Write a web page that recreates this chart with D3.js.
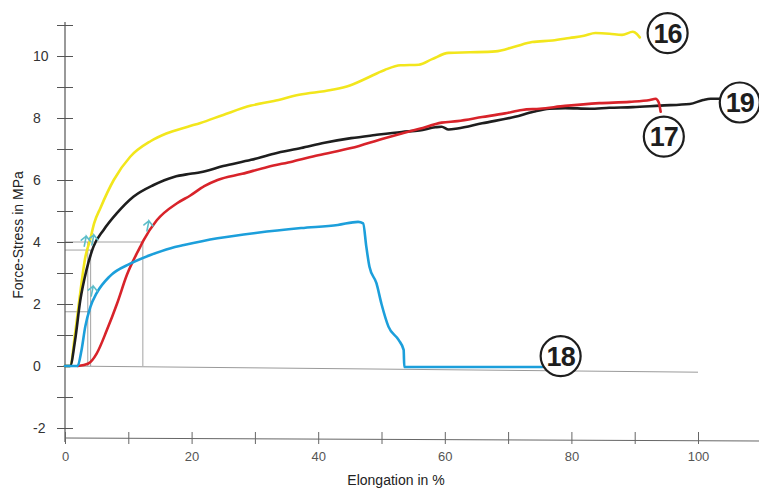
<!DOCTYPE html>
<html>
<head>
<meta charset="utf-8">
<script src="https://cdn.jsdelivr.net/npm/d3@7"></script>
<style>
  body { margin: 0; background: #fff; }
  svg { display: block; font-family: "Liberation Sans", Arial, sans-serif; }
</style>
</head>
<body>
<div id="chart"></div>
<script>
// curves: [elongation %, stress MPa]
const curve16 = [[0,0],[0.8,0],[1.6,1.06],[2.4,2.35],[3.2,3.5],[4,4.1],[4.6,4.6],[5.6,5.1],[7.7,6.0],[10.3,6.75],[13.5,7.25],[16,7.5],[19.4,7.72],[21.4,7.84],[25,8.1],[29.4,8.4],[33,8.55],[37,8.75],[42,8.9],[45,9.05],[47.3,9.25],[50.5,9.55],[53,9.7],[55.9,9.72],[58,9.9],[60.6,10.1],[64,10.12],[68,10.15],[71,10.3],[73.8,10.45],[77,10.5],[79.7,10.58],[82,10.65],[83.8,10.74],[86,10.72],[88,10.68],[89.7,10.78],[90.3,10.72],[90.8,10.6]];
const curve19 = [[0,0],[0.8,0],[1.6,0.84],[2.4,2.1],[3.4,3.1],[4.5,3.85],[6.1,4.39],[8.2,4.93],[10.8,5.46],[14,5.84],[17.2,6.1],[19.8,6.2],[21.4,6.25],[25,6.45],[29.4,6.65],[33,6.85],[37.3,7.03],[41,7.2],[45.2,7.35],[49,7.45],[53.2,7.55],[56,7.6],[58.5,7.7],[59.5,7.72],[60.6,7.63],[62,7.66],[65.9,7.83],[71.1,8.04],[74,8.2],[76.5,8.3],[79,8.32],[82.9,8.3],[86,8.33],[89.7,8.35],[94,8.4],[98.7,8.45],[100.8,8.58],[102,8.62],[103.5,8.62]];
const curve17 = [[2.0,0],[3.7,0.08],[5,0.4],[6.6,1.15],[8.2,2.0],[9.8,2.95],[11.9,3.85],[12.4,4.05],[14.5,4.7],[17.7,5.25],[19.8,5.5],[22,5.8],[24.1,6.0],[28,6.2],[32,6.42],[36,6.6],[40,6.8],[45.2,7.03],[50.5,7.35],[53.2,7.5],[56,7.65],[59.5,7.85],[62,7.9],[65.9,8.03],[69.5,8.15],[72.2,8.26],[75,8.3],[79,8.39],[84.4,8.48],[89.2,8.52],[92.4,8.58],[93.3,8.62],[93.8,8.5],[94.1,8.2]];
const curve18 = [[0,0],[2.0,0],[2.6,0.5],[3.2,1.27],[4,1.9],[5,2.35],[7.1,2.9],[10.3,3.3],[13.5,3.58],[16.7,3.8],[18.8,3.9],[24.1,4.12],[30.4,4.3],[37.3,4.45],[43.1,4.55],[46.3,4.65],[47.1,4.6],[47.6,3.85],[48.1,3.2],[49.2,2.67],[50,2.0],[51.1,1.27],[52.7,0.84],[53.5,0.52],[53.6,-0.03],[60,-0.03],[75.4,-0.03]];

const seriesNames = ['16', '19', '17', '18'];
const seriesColors = ['#f2e61c', '#1e1e1e', '#d8232a', '#1c9fdb'];
// circled label positions [x, y] in data units
const labelPos = [[95.2,10.74],[106.6,8.5],[94.6,7.4],[78.3,0.32]];

// hand-drawn guide lines: horizontal [y, xEnd], vertical [x, yEnd]
const guideH = [[4,12.3],[3.74,4.1],[1.75,4.0]];
const guideV = [[12.3,4],[3.6,4],[4.05,3.74]];
// small cyan check marks
const marks = [[3.2,4.06],[4.4,4.1],[4.3,2.45],[13.1,4.55]];

const xTicks = d3.range(0, 110, 10);
const yTicks = d3.range(-2, 12, 1);

const width = 759, height = 490;
const x = d3.scaleLinear().domain([0, 100]).range([65, 698]);
const y = d3.scaleLinear().domain([0, 10]).range([366, 56]);

const svg = d3.select('#chart').append('svg')
    .attr('width', width)
    .attr('height', height);

// zero reference line (slightly tilted like the scan)
svg.append('line')
    .attr('x1', x(0)).attr('y1', y(0))
    .attr('x2', x(100)).attr('y2', y(-0.2))
    .attr('stroke', '#9a9a9a').attr('stroke-width', 1);

// guides
svg.selectAll('.gh').data(guideH).enter().append('line')
    .attr('x1', x(0)).attr('x2', d => x(d[1]))
    .attr('y1', d => y(d[0])).attr('y2', d => y(d[0]))
    .attr('stroke', '#8a8a8a').attr('stroke-width', 0.8);
svg.selectAll('.gv').data(guideV).enter().append('line')
    .attr('x1', d => x(d[0])).attr('x2', d => x(d[0]))
    .attr('y1', y(0)).attr('y2', d => y(d[1]))
    .attr('stroke', '#8a8a8a').attr('stroke-width', 0.8);

// y axis
const yAxis = svg.append('g')
    .attr('transform', `translate(${x(0)},0)`)
    .call(d3.axisLeft(y).tickValues(yTicks).tickSize(8)
        .tickFormat(d => (d % 2 === 0 && d <= 10) ? d : ''));
yAxis.select('.domain').remove();
yAxis.selectAll('.tick line').attr('x1', 8).attr('x2', -8).attr('stroke', '#555');
yAxis.selectAll('.tick text')
    .attr('x', -32).attr('text-anchor', 'start')
    .attr('font-size', 14).attr('fill', '#333')
    .attr('font-family', '"Liberation Sans", Arial, sans-serif');
yAxis.append('line')
    .attr('x1', 0).attr('x2', 0)
    .attr('y1', y(11.1)).attr('y2', y(-2.45))
    .attr('stroke', '#555').attr('stroke-width', 1.2);

// x axis
const xAxis = svg.append('g')
    .attr('transform', `translate(0,438)`)
    .call(d3.axisBottom(x).tickValues(xTicks).tickSize(6).tickPadding(8)
        .tickFormat(d => d % 20 === 0 ? d : ''));
xAxis.select('.domain').remove();
xAxis.selectAll('.tick line').attr('y1', -6).attr('y2', 6).attr('stroke', '#666');
xAxis.selectAll('.tick text')
    .attr('font-size', 13).attr('fill', '#555')
    .attr('font-family', '"Liberation Sans", Arial, sans-serif');
xAxis.append('line')
    .attr('x1', x(0)).attr('x2', width)
    .attr('y1', 0).attr('y2', 3)
    .attr('stroke', '#666').attr('stroke-width', 1);

// axis titles
svg.append('text')
    .attr('x', 396).attr('y', 485)
    .attr('text-anchor', 'middle')
    .attr('font-size', 14).attr('fill', '#222')
    .text('Elongation in %');
svg.append('text')
    .attr('transform', 'translate(23,235) rotate(-90)')
    .attr('text-anchor', 'middle')
    .attr('font-size', 14).attr('fill', '#222')
    .text('Force-Stress in MPa');

// curves
const line = d3.line()
    .x(d => x(d[0]))
    .y(d => y(d[1]))
    .curve(d3.curveMonotoneX);

const curves = [curve16, curve19, curve17, curve18];
svg.selectAll('.curve').data(curves).enter().append('path')
    .attr('class', 'curve')
    .attr('fill', 'none')
    .attr('stroke', (d, i) => seriesColors[i])
    .attr('stroke-width', 2.6)
    .attr('stroke-linejoin', 'round')
    .attr('stroke-linecap', 'round')
    .attr('d', line);

// cyan check marks
svg.selectAll('.mark').data(marks).enter().append('path')
    .attr('transform', d => `translate(${x(d[0])},${y(d[1])})`)
    .attr('d', 'M-1,6 L1,-4 L5,1 M1,-4 L-4,0')
    .attr('fill', 'none')
    .attr('stroke', '#5dbdc9')
    .attr('stroke-width', 1.6)
    .attr('stroke-linecap', 'round');

// circled labels
const lbl = svg.selectAll('.lbl').data(seriesNames).enter().append('g')
    .attr('transform', (d, i) => `translate(${x(labelPos[i][0])},${y(labelPos[i][1])})`);
lbl.append('circle')
    .attr('r', 20)
    .attr('fill', '#fff')
    .attr('stroke', '#1e1e1e')
    .attr('stroke-width', 2.2);
lbl.append('text')
    .attr('text-anchor', 'middle')
    .attr('dy', '0.36em')
    .attr('font-size', 27)
    .attr('font-weight', 'bold')
    .attr('fill', '#1e1e1e')
    .attr('letter-spacing', -1)
    .text(d => d);
</script>
</body>
</html>
